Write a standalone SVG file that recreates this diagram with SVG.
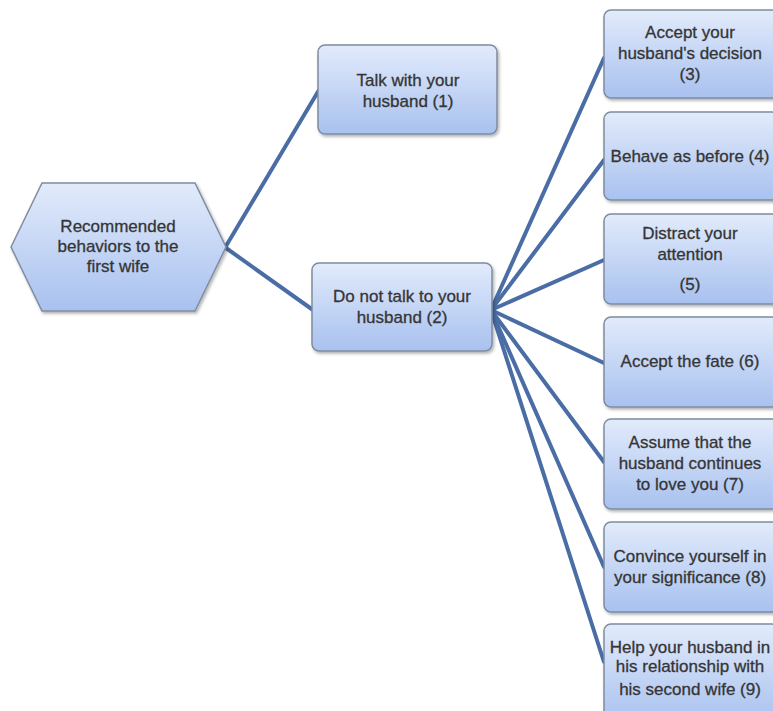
<svg xmlns="http://www.w3.org/2000/svg" width="773" height="711" viewBox="0 0 773 711">
<defs>
<linearGradient id="g" x1="0" y1="0" x2="0" y2="1">
<stop offset="0" stop-color="#e2ebfb"/>
<stop offset="1" stop-color="#a8c1ef"/>
</linearGradient>
<filter id="sh" x="-10%" y="-10%" width="130%" height="130%">
<feDropShadow dx="1.5" dy="2" stdDeviation="1.5" flood-color="#000" flood-opacity="0.3"/>
</filter>
</defs>
<style>
.box{fill:url(#g);stroke:#7f8ca0;stroke-width:1.5;filter:url(#sh)}
.t{font-family:"Liberation Sans",Arial,sans-serif;font-size:17px;fill:#353535;stroke:#353535;stroke-width:0.3;text-anchor:middle}
.c{stroke:#4a6da6;stroke-width:4;fill:none;stroke-linecap:round}
</style>
<rect width="773" height="711" fill="#ffffff"/>
<g id="connectors">
<line class="c" x1="226" y1="246" x2="319" y2="90"/>
<line class="c" x1="226" y1="248" x2="313" y2="310"/>
<line class="c" x1="491" y1="310" x2="604" y2="58"/>
<line class="c" x1="491" y1="310" x2="604" y2="160"/>
<line class="c" x1="491" y1="310" x2="604" y2="260"/>
<line class="c" x1="491" y1="310" x2="604" y2="363"/>
<line class="c" x1="491" y1="310" x2="604" y2="462"/>
<line class="c" x1="491" y1="310" x2="604" y2="567"/>
<line class="c" x1="491" y1="310" x2="604" y2="662"/>
</g>
<g id="root">
<polygon class="box" points="11,247 42,183 195,183 226,247 195,311 42,311"/>
<text class="t" x="118" y="232">Recommended</text>
<text class="t" x="118" y="252">behaviors to the</text>
<text class="t" x="118" y="272">first wife</text>
</g>
<g id="n1">
<rect class="box" x="318" y="45" width="179" height="89" rx="7"/>
<text class="t" x="408" y="86">Talk with your</text>
<text class="t" x="408" y="107">husband (1)</text>
</g>
<g id="n2">
<rect class="box" x="312" y="263" width="180" height="88" rx="7"/>
<text class="t" x="402" y="302">Do not talk to your</text>
<text class="t" x="402" y="323">husband (2)</text>
</g>
<g id="n3">
<rect class="box" x="604" y="10" width="175" height="88" rx="7"/>
<text class="t" x="690" y="38">Accept your</text>
<text class="t" x="690" y="59">husband's decision</text>
<text class="t" x="690" y="80">(3)</text>
</g>
<g id="n4">
<rect class="box" x="604" y="112" width="175" height="88" rx="7"/>
<text class="t" x="690" y="162">Behave as before (4)</text>
</g>
<g id="n5">
<rect class="box" x="604" y="214" width="175" height="90" rx="7"/>
<text class="t" x="690" y="239">Distract your</text>
<text class="t" x="690" y="260">attention</text>
<text class="t" x="690" y="290">(5)</text>
</g>
<g id="n6">
<rect class="box" x="604" y="317" width="175" height="90" rx="7"/>
<text class="t" x="690" y="367">Accept the fate (6)</text>
</g>
<g id="n7">
<rect class="box" x="604" y="419" width="175" height="90" rx="7"/>
<text class="t" x="690" y="448">Assume that the</text>
<text class="t" x="690" y="469">husband continues</text>
<text class="t" x="690" y="490">to love you (7)</text>
</g>
<g id="n8">
<rect class="box" x="604" y="522" width="175" height="90" rx="7"/>
<text class="t" x="690" y="562">Convince yourself in</text>
<text class="t" x="690" y="583">your significance (8)</text>
</g>
<g id="n9">
<rect class="box" x="604" y="624" width="175" height="100" rx="7"/>
<text class="t" x="690" y="653">Help your husband in</text>
<text class="t" x="690" y="672">his relationship with</text>
<text class="t" x="690" y="695">his second wife (9)</text>
</g>
</svg>
